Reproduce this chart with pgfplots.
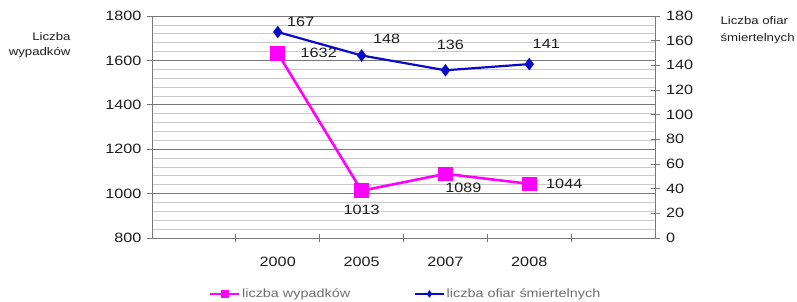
\documentclass[border=0pt]{standalone}
\usepackage{pgfplots}
\pgfplotsset{compat=1.18}
\usepackage{fontspec}
\setmainfont{Liberation Sans}[FakeStretch=1.2]
\definecolor{pinkc}{RGB}{255,0,255}
\definecolor{dblue}{RGB}{10,10,200}
\definecolor{gridmaj}{RGB}{120,120,120}
\definecolor{gridmin}{RGB}{200,200,200}
\definecolor{txt}{RGB}{30,30,30}
\definecolor{legtxt}{RGB}{110,110,110}
\begin{document}
\begin{tikzpicture}
\useasboundingbox (-152pt,-63pt) rectangle (645pt,238pt);
\begin{axis}[
  scale only axis, width=503pt, height=222pt,
  at={(0pt,0pt)}, anchor=south west,
  xmin=0, xmax=6, ymin=800, ymax=1800,
  axis y line*=left, axis x line*=bottom,
  axis line style={gridmaj, line width=0.8pt},
  xtick={1.5,2.5,3.5,4.5}, xticklabels={2000,2005,2007,2008},
  x tick style={draw=none},
  extra x ticks={1,2,3,4,5}, extra x tick labels={},
  extra x tick style={tick align=center, major tick length=8pt, x tick style={draw=gridmaj, line width=0.8pt}, xmajorgrids=false},
  xticklabel style={yshift=-11pt},
  ytick={800,1000,...,1800}, minor y tick num=4,
  ymajorgrids, yminorgrids,
  major grid style={gridmaj, line width=0.8pt},
  minor grid style={gridmin, line width=0.7pt},
  y tick style={gridmaj, line width=0.8pt},
  tick align=outside, major tick length=5pt, minor tick length=0pt,
  yticklabel style={xshift=-2pt},
  ticklabel style={font=\fontsize{13.5}{15}\selectfont, text=txt},
  /pgf/number format/1000 sep={},
  /pgf/number format/assume math mode=true,
  clip=false,
  legend style={at={(0.505,-0.252)}, anchor=center, draw=none, fill=none,
    legend columns=2, font=\fontsize{12}{13}\selectfont, text=legtxt,
    /tikz/every even column/.append style={column sep=62pt}},
  legend cell align=left,
  legend image code/.code={\draw[mark repeat=2, mark phase=2, #1] plot coordinates {(0pt,0pt) (14.5pt,0pt) (29pt,0pt)};},
]
\addlegendimage{pinkc, line width=1.5pt, mark=square*, mark size=3pt}
\addlegendentry{liczba wypadków}
\addlegendimage{dblue, line width=1.5pt, mark=diamond*, mark size=2.5pt}
\addlegendentry{liczba ofiar śmiertelnych}
\addplot[pinkc, line width=2.6pt, mark=square*, mark size=6pt, forget plot]
  coordinates {(1.5,1632) (2.5,1013) (3.5,1089) (4.5,1044)};
\begin{scope}[font=\fontsize{13.5}{15}\selectfont, text=txt]
\node at (axis cs:1.5,1632) [xshift=41pt] {1632};
\node at (axis cs:2.5,1013) [yshift=-19pt] {1013};
\node at (axis cs:3.5,1089) [xshift=18pt, yshift=-14pt] {1089};
\node at (axis cs:4.5,1044) [xshift=35pt] {1044};
\end{scope}
\end{axis}
\begin{axis}[
  scale only axis, width=503pt, height=222pt,
  at={(0pt,0pt)}, anchor=south west,
  xmin=0, xmax=6, ymin=0, ymax=180,
  axis y line*=right, axis x line=none,
  axis line style={gridmaj, line width=0.8pt},
  ytick={0,20,...,180},
  y tick style={gridmaj, line width=0.8pt},
  tick align=center, major tick length=9pt,
  yticklabel style={xshift=3pt},
  ticklabel style={font=\fontsize{13.5}{15}\selectfont, text=txt},
  /pgf/number format/assume math mode=true,
  clip=false,
]
\addplot[dblue, line width=2.2pt, mark=diamond*, mark size=4.5pt]
  coordinates {(1.5,167) (2.5,148) (3.5,136) (4.5,141)};
\begin{scope}[font=\fontsize{13.5}{15}\selectfont, text=txt]
\node at (axis cs:1.5,167) [xshift=23pt, yshift=10pt] {167};
\node at (axis cs:2.5,148) [xshift=25pt, yshift=17pt] {148};
\node at (axis cs:3.5,136) [xshift=5pt, yshift=25pt] {136};
\node at (axis cs:4.5,141) [xshift=17pt, yshift=20pt] {141};
\end{scope}
\end{axis}
\node[anchor=east, align=right, font=\fontsize{11}{15}\selectfont, text=txt] at (-78pt,193pt) {Liczba\\wypadków};
\node[anchor=west, align=left, font=\fontsize{11}{17}\selectfont, text=txt] at (565pt,208pt) {Liczba ofiar\\śmiertelnych};
\end{tikzpicture}
\end{document}
